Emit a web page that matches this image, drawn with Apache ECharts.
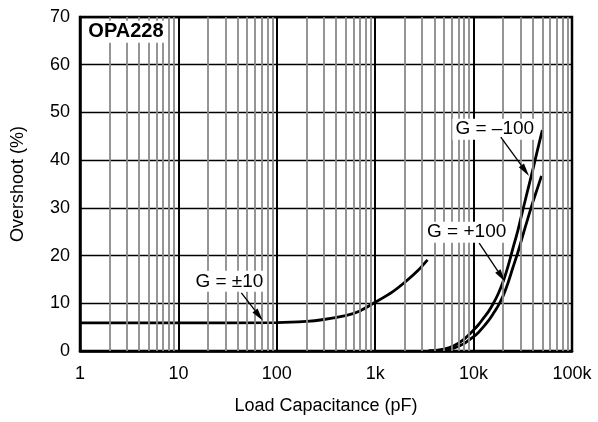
<!DOCTYPE html>
<html><head><meta charset="utf-8">
<script src="https://cdn.jsdelivr.net/npm/echarts@6/dist/echarts.min.js"></script>
<style>html,body{margin:0;padding:0;background:#fff}#c{width:598px;height:422px}</style>
</head><body><div id="c"></div>
<script>
// ---- data ----
const xTicks = [1, 10, 100, 1000, 10000, 100000];
const xTickLabels = ['1', '10', '100', '1k', '10k', '100k'];
const yTicks = [0, 10, 20, 30, 40, 50, 60, 70];

const g10C = [1, 10, 100, 200, 300, 500, 700, 1000, 1500, 2000, 2700, 3400];
const g10Y = [5.9, 5.9, 5.95, 6.2, 6.6, 7.4, 8.4, 10.2, 12.4, 14.4, 16.8, 19.1];

const gm100C = [3500, 4000, 5000, 6300, 7900, 10000, 11200, 12500, 14100, 15800, 17800, 20000, 22400, 25000, 28200, 31600, 35500, 40000, 44700, 50000];
const gm100Y = [0, 0.1, 0.4, 1.1, 2.4, 4.4, 5.5, 6.8, 8.2, 9.9, 12.0, 14.6, 17.8, 21.4, 25.3, 29.5, 33.7, 38.0, 42.2, 46.3];

const gp100C = [3500, 4000, 5000, 6300, 7900, 10000, 11200, 12500, 14100, 15800, 17800, 20000, 22400, 25000, 28200, 31600, 35500, 40000, 44700, 49000];
const gp100Y = [0, 0.05, 0.2, 0.6, 1.5, 3.0, 3.9, 5.0, 6.3, 7.8, 9.5, 11.6, 14.3, 17.4, 20.7, 24.2, 27.7, 31.2, 34.2, 36.7];

const labelTexts = ['OPA228', 'G = \u00B110', 'G = \u2013100', 'G = +100'];

// ---- chart ----
const FONT = 'Liberation Sans, Arial, sans-serif';
const pairs = (xs, ys) => xs.map((x, i) => [x, ys[i]]);
const minorX = [];
for (let d = 1; d < 100000; d *= 10) for (let k = 2; k <= 9; k++) minorX.push(d * k);

const curve = (name, xs, ys) => ({
  name, type: 'line', data: pairs(xs, ys), smooth: 0.3, showSymbol: false, symbol: 'none',
  lineStyle: { color: '#000', width: 2.8 }, z: 4, silent: true, animation: false
});

const option = {
  animation: false,
  grid: { left: 80, right: 26, top: 17, bottom: 71, show: true, borderColor: '#000', borderWidth: 2.5, backgroundColor: 'transparent' },
  xAxis: {
    type: 'log', logBase: 10, min: 1, max: 100000,
    name: 'Load Capacitance (pF)', nameLocation: 'middle', nameGap: 46,
    nameTextStyle: { fontFamily: FONT, fontSize: 18, color: '#000' },
    axisLine: { show: true, lineStyle: { color: '#000', width: 2.5 } },
    axisTick: { show: false },
    axisLabel: { fontFamily: FONT, fontSize: 18, color: '#000', margin: 14,
      formatter: v => { const i = xTicks.findIndex(t => Math.abs(t - v) / t < 1e-6); return i >= 0 ? xTickLabels[i] : ''; } },
    splitLine: { show: true, lineStyle: { color: '#000', width: 2 } }
  },
  yAxis: {
    type: 'value', min: 0, max: 70, interval: 10,
    name: 'Overshoot (%)', nameLocation: 'middle', nameGap: 53,
    nameTextStyle: { fontFamily: FONT, fontSize: 18, color: '#000' },
    axisLine: { show: true, lineStyle: { color: '#000', width: 2.5 } },
    axisTick: { show: false },
    axisLabel: { fontFamily: FONT, fontSize: 18, color: '#000', margin: 10,
      formatter: v => yTicks.includes(v) ? String(v) : '' },
    splitLine: { show: true, lineStyle: { color: '#000', width: 1.3 } }
  },
  series: [
    { type: 'line', data: [], z: 1, silent: true,
      markLine: { silent: true, symbol: 'none', label: { show: false }, animation: false,
        lineStyle: { color: '#8a8a8a', width: 1.8, type: 'solid' },
        data: minorX.map(v => ({ xAxis: v })) } },
    curve('g10', g10C, g10Y),
    curve('gm100', gm100C, gm100Y),
    curve('gp100', gp100C, gp100Y)
  ]
};

const chart = echarts.init(document.getElementById('c'), null, { renderer: 'canvas' });
chart.setOption(option);

// annotations anchored in data coordinates
const P = (x, y) => chart.convertToPixel({ gridIndex: 0 }, [x, y]);
const annots = [
  { text: labelTexts[0], at: [2.93, 66.9], bold: true, size: 20 },
  { text: labelTexts[1], at: [33, 14.6], from: [43.6, 12.2], to: [72.3, 6.35] },
  { text: labelTexts[2], at: [16400, 46.5], from: [18900, 44.8], to: [36600, 36.7] },
  { text: labelTexts[3], at: [8500, 24.9], from: [11400, 22.6], to: [20900, 14.5] }
];
const g = [];
annots.forEach(a => {
  const c = P(a.at[0], a.at[1]);
  g.push({ type: 'text', x: c[0], y: c[1], z: 10,
    style: { text: a.text, fill: '#000', font: (a.bold ? 'bold ' : '') + (a.size || 19) + 'px ' + FONT,
      align: 'center', verticalAlign: 'middle', backgroundColor: '#fff', padding: [1, 3] } });
  if (a.from) {
    const p1 = P(a.from[0], a.from[1]), p2 = P(a.to[0], a.to[1]);
    const dx = p2[0] - p1[0], dy = p2[1] - p1[1], L = Math.hypot(dx, dy);
    const ux = dx / L, uy = dy / L, hl = 13, hw = 3.2;
    const bx = p2[0] - ux * hl, by = p2[1] - uy * hl;
    g.push({ type: 'line', z: 10, shape: { x1: p1[0], y1: p1[1], x2: bx, y2: by }, style: { stroke: '#000', lineWidth: 1.3 } });
    g.push({ type: 'polygon', z: 10, shape: { points: [[p2[0], p2[1]], [bx - uy * hw, by + ux * hw], [bx + uy * hw, by - ux * hw]] }, style: { fill: '#000' } });
  }
});
chart.setOption({ graphic: g });
</script></body></html>
